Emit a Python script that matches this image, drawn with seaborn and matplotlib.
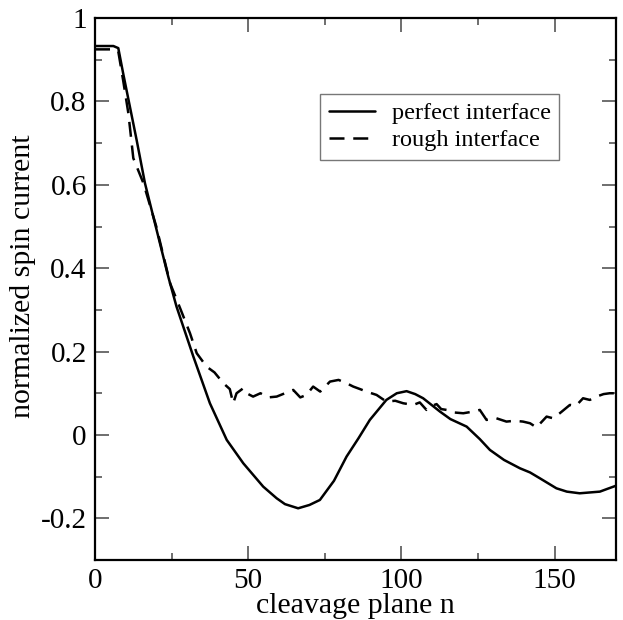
import numpy as np
import pandas as pd
import matplotlib
matplotlib.use("Agg")
import matplotlib.pyplot as plt
from matplotlib.ticker import MultipleLocator
import seaborn as sns

# perfekte Grenzflaeche (durchgezogen)
perfect_n = [0, 3, 6, 7.6, 9.2, 11.4, 13.6, 16.3, 20.1, 23.9, 26.6, 32.1, 37.5, 43.0,
             48.4, 54.9, 59.3, 62.0, 66.3, 70.0, 73.4, 78.0, 82.1, 86.0, 89.7, 95.1,
             98.5, 101.7, 104.5, 107.1, 112.6, 116.0, 121.3, 125.6, 128.9, 133.5,
             138.7, 142.0, 145.2, 150.6, 154.0, 158.2, 161.5, 164.8, 167.0, 170.0]
perfect_j = [0.933, 0.933, 0.933, 0.928, 0.867, 0.787, 0.707, 0.604, 0.492, 0.380,
             0.308, 0.188, 0.076, -0.012, -0.068, -0.124, -0.152, -0.166, -0.176,
             -0.168, -0.156, -0.110, -0.052, -0.008, 0.036, 0.084, 0.100, 0.105,
             0.098, 0.088, 0.056, 0.038, 0.020, -0.010, -0.036, -0.060, -0.080,
             -0.090, -0.104, -0.128, -0.136, -0.140, -0.138, -0.136, -0.130, -0.122]

# rauhe Grenzflaeche (gestrichelt)
rough_n = [0, 3, 6, 7.6, 9.2, 10.9, 12.5, 15.8, 20.0, 24.5, 28.0, 31.0, 33.2, 36.4,
           39.0, 41.9, 44.0, 45.1, 46.2, 48.4, 50.0, 51.6, 54.0, 56.5, 59.3, 62.0,
           64.7, 67.0, 69.0, 71.2, 73.5, 76.7, 79.5, 82.1, 84.3, 86.5, 88.6, 91.9,
           95.1, 98.0, 100.6, 103.9, 106.0, 108.2, 110.0, 111.5, 113.0, 114.8,
           117.0, 120.2, 123.4, 125.6, 127.8, 131.0, 134.3, 137.0, 139.7, 142.0,
           144.1, 147.4, 149.5, 151.7, 155.0, 157.0, 159.3, 161.5, 163.7, 166.0,
           168.0, 170.0]
rough_j = [0.925, 0.925, 0.925, 0.920, 0.850, 0.771, 0.664, 0.604, 0.500, 0.364,
           0.300, 0.244, 0.196, 0.164, 0.150, 0.124, 0.110, 0.076, 0.100, 0.112,
           0.098, 0.092, 0.100, 0.090, 0.092, 0.100, 0.108, 0.090, 0.096, 0.116,
           0.104, 0.128, 0.132, 0.124, 0.116, 0.110, 0.104, 0.096, 0.080, 0.082,
           0.076, 0.072, 0.078, 0.060, 0.070, 0.074, 0.062, 0.060, 0.054, 0.052,
           0.056, 0.060, 0.036, 0.040, 0.032, 0.034, 0.032, 0.028, 0.018, 0.044,
           0.040, 0.052, 0.072, 0.070, 0.088, 0.084, 0.092, 0.098, 0.100, 0.100]

y_ticks = [-0.2, 0, 0.2, 0.4, 0.6, 0.8, 1]
y_tick_labels = ["-0.2", "0", "0.2", "0.4", "0.6", "0.8", "1"]
x_ticks = [0, 50, 100, 150]

sns.set_style("ticks")
plt.rcParams["font.family"] = ["Liberation Serif", "DejaVu Serif"]
plt.rcParams["text.color"] = "black"
plt.rcParams["axes.labelcolor"] = "black"

fig = plt.figure(figsize=(6.23, 6.20), dpi=100)
ax = fig.add_axes([0.1525, 0.0968, 0.836, 0.874])

df_p = pd.DataFrame({"n": perfect_n, "j": perfect_j})
df_r = pd.DataFrame({"n": rough_n, "j": rough_j})
sns.lineplot(data=df_p, x="n", y="j", ax=ax, color="black", linewidth=1.8,
             label="perfect interface", estimator=None, sort=False)
sns.lineplot(data=df_r, x="n", y="j", ax=ax, color="black", linewidth=1.8,
             label="rough interface", estimator=None, sort=False,
             dashes=False)
ax.lines[1].set_dashes((6, 3.5))

ax.set_xlim(0, 170)
ax.set_ylim(-0.3, 1)
ax.set_xticks(x_ticks)
ax.set_yticks(y_ticks)
ax.set_yticklabels(y_tick_labels)
ax.xaxis.set_minor_locator(MultipleLocator(25))
ax.yaxis.set_minor_locator(MultipleLocator(0.1))
ax.tick_params(which="both", direction="in", top=True, right=True,
               labelsize=21, color="#555555", labelcolor="black", width=1.2, pad=6)
ax.tick_params(which="major", length=10)
ax.tick_params(which="minor", length=5)
for sp in ax.spines.values():
    sp.set_linewidth(1.6)
    sp.set_color("black")

ax.set_xlabel("cleavage plane n", fontsize=21.5, labelpad=-1)
ax.set_ylabel("normalized spin current", fontsize=21.5)
ax.yaxis.set_label_coords(-0.114, 0.524)

leg = ax.legend(loc="upper left", bbox_to_anchor=(0.432, 0.860), borderaxespad=0,
                fontsize=17.5, frameon=True, fancybox=False, handlelength=1.9,
                handletextpad=0.7, borderpad=0.35, labelspacing=0.2)
leg.get_frame().set_edgecolor("#555555")
leg.get_frame().set_linewidth(1.0)
leg.legend_handles[1].set_dashes((6, 3.5))

fig.savefig("out.png", dpi=100)
